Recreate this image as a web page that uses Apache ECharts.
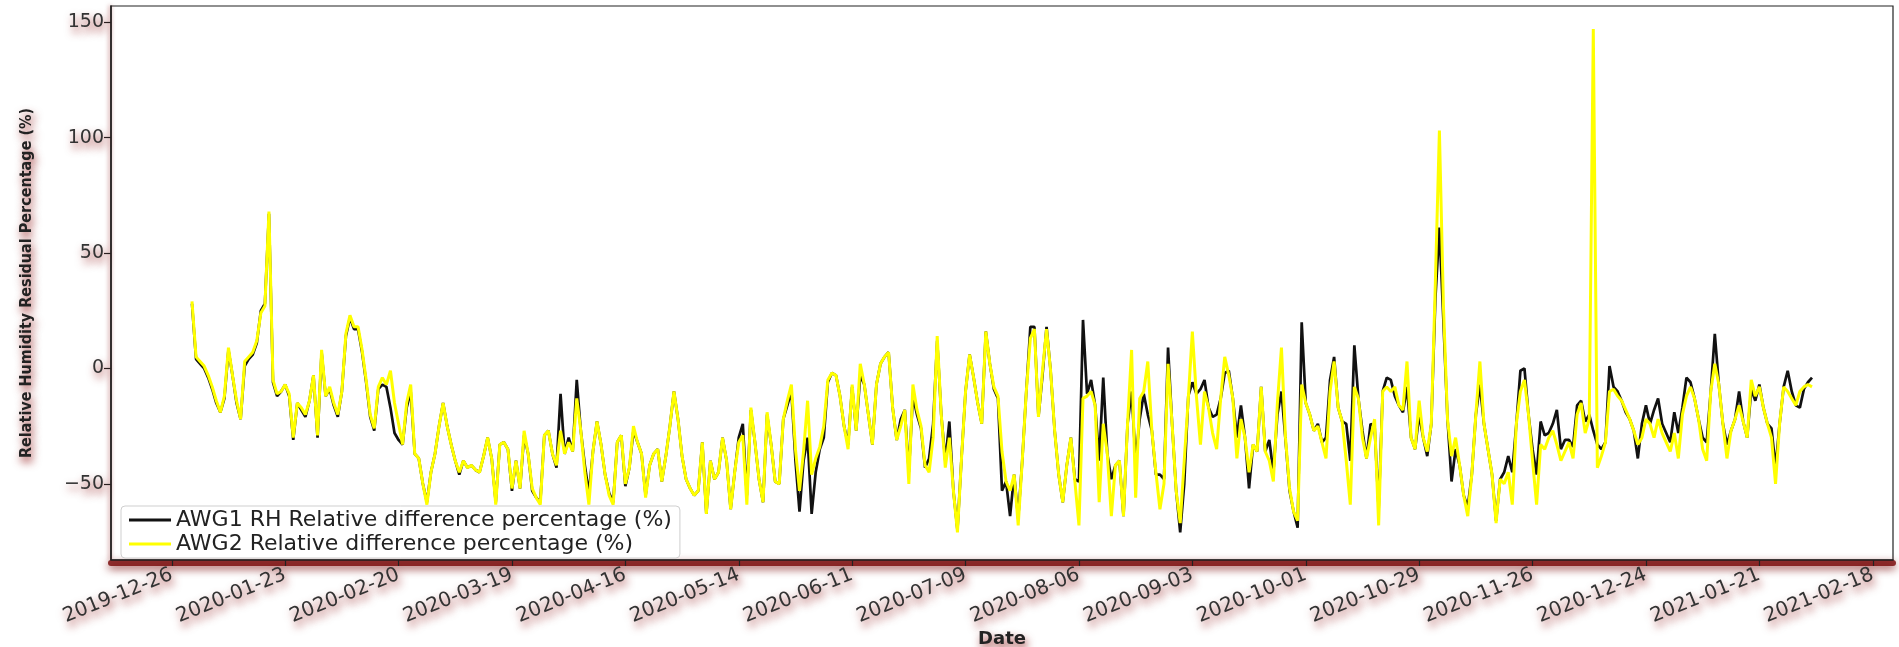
<!DOCTYPE html>
<html><head><meta charset="utf-8">
<script src="https://cdn.jsdelivr.net/npm/echarts@6/dist/echarts.min.js"></script>
<style>html,body{margin:0;padding:0;background:#fff}#c{width:1899px;height:647px}</style>
</head><body><div id="c"></div>
<script>
// ---- data (daily values, first day = startDate) ----
const startDate = '2019-12-31';
const seriesNames = ['AWG1 RH Relative difference percentage (%)', 'AWG2 Relative difference percentage (%)'];
const awg1 = [
 28, 4, 2, 0, -4, -9, -15, -19, -13, 8, -3, -15, -22, 1, 4, 6, 11, 25, 28, 67, -6, -12, -10, -7, -12, -31, -15, -18, -21, -14, -3, -30, 7, -12,
 -9, -16, -21, -10, 14, 22, 17, 17, 7, -6, -21, -27, -9, -7, -8, -17, -28, -31, -33, -17, -10, -37, -39, -50, -58, -45, -37, -25, -15, -25, -33, -40, -46, -40, -43, -42, -44,
 -45, -38, -30, -39, -58, -33, -32, -35, -53, -40, -52, -29, -37, -53, -56, -58, -29, -27, -37, -43, -11, -37, -30, -36, -5, -27, -42, -54, -36, -23, -33, -46, -54, -58, -32, -29, -51,
 -43, -27, -32, -37, -55, -42, -37, -35, -49, -38, -25, -10, -22, -38, -48, -52, -55, -53, -32, -63, -40, -48, -45, -30, -40, -61, -45, -30, -24, -55, -18, -32, -48, -58, -20, -33, -49,
 -50, -22, -16, -10, -40, -62, -40, -30, -63, -45, -35, -30, -6, -2, -3, -12, -25, -33, -8, -27, -3, -7, -20, -33, -7, 2, 5, 7, -17, -31, -22, -18, -45, -12, -20, -26, -43,
 -39, -24, 12, -20, -40, -23, -53, -70, -39, -10, 6, -4, -15, -24, 16, 2, -9, -13, -53, -49, -64, -46, -65, -40, -10, 18, 18, -21, -3, 18, -1, -27, -46, -58, -42, -30, -48,
 -49, 21, -11, -5, -16, -40, -4, -37, -48, -42, -40, -64, -24, -10, -40, -22, -11, -20, -27, -46, -46, -48, 9, -24, -53, -71, -50, -12, -6, -11, -9, -5, -17, -21, -20, -13, -2,
 -1, -13, -30, -16, -30, -52, -33, -36, -8, -36, -31, -45, -20, -10, -31, -53, -62, -69, 20, -15, -20, -27, -24, -32, -30, -5, 5, -17, -23, -24, -40, 10, -13, -27, -39, -24,
 -25, -61, -10, -4, -5, -12, -16, -19, -8, -30, -35, -20, -30, -38, -24, 30, 61, 20, -22, -49, -35, -42, -55, -60, -46, -20, -7, -24, -35, -46, -66, -48, -45, -38, -45, -24, -1,
 0, -20, -35, -46, -23, -29, -28, -24, -18, -35, -31, -31, -34, -16, -14, -23, -20, -27, -33, -35, -32, 1, -8, -10, -14, -19, -22, -27, -39, -24, -16, -24, -18, -13, -24, -28, -32,
 -19, -28, -17, -4, -6, -13, -22, -30, -32, -10, 15, -7, -24, -33, -27, -22, -10, -23, -30, -9, -14, -7, -17, -24, -26, -43, -24, -8, -1, -10, -16, -17, -9, -6, -4
];
const awg2 = [
 29, 5, 3, 1, -3, -8, -14, -19, -12, 9, -3, -14, -22, 3, 5, 7, 12, 24, 27, 68, -5, -11, -10, -7, -11, -30, -15, -17, -20, -14, -3, -29, 8, -12,
 -8, -15, -20, -10, 15, 23, 18, 18, 8, -5, -20, -26, -8, -4, -7, -1, -15, -24, -33, -15, -7, -37, -39, -50, -59, -45, -37, -25, -15, -25, -33, -40, -45, -40, -43, -42, -44,
 -45, -38, -30, -39, -59, -33, -32, -35, -52, -40, -52, -27, -37, -52, -56, -59, -29, -27, -37, -42, -27, -37, -32, -36, -13, -27, -45, -59, -36, -23, -33, -46, -55, -59, -32, -29, -50,
 -43, -25, -32, -37, -56, -42, -37, -35, -49, -38, -25, -10, -22, -38, -48, -52, -55, -53, -32, -63, -40, -48, -45, -30, -40, -61, -45, -32, -29, -59, -17, -32, -48, -58, -19, -33, -49,
 -50, -22, -14, -7, -35, -53, -36, -14, -46, -39, -34, -25, -5, -2, -3, -12, -25, -35, -7, -27, 2, -7, -20, -33, -7, 2, 5, 7, -17, -31, -25, -18, -50, -7, -18, -25, -42,
 -45, -30, 14, -20, -43, -30, -53, -71, -39, -10, 6, -4, -15, -24, 16, 2, -8, -12, -36, -49, -53, -46, -68, -40, -10, 13, 17, -21, -1, 17, -1, -27, -46, -58, -42, -30, -49,
 -68, -13, -12, -10, -16, -58, -24, -37, -64, -42, -40, -64, -24, 8, -56, -13, -10, 3, -27, -45, -61, -50, 2, -24, -53, -67, -40, -13, 16, -12, -33, -10, -17, -28, -35, -13, 5,
 -3, -13, -39, -22, -30, -45, -33, -36, -8, -36, -40, -49, -15, 9, -30, -52, -62, -66, -7, -15, -20, -27, -25, -32, -39, -10, 3, -17, -23, -40, -59, -8, -13, -30, -39, -30,
 -22, -68, -10, -8, -10, -8, -16, -18, 3, -30, -35, -14, -30, -36, -24, 37, 103, 27, -22, -38, -30, -42, -55, -64, -46, -20, 3, -24, -35, -46, -67, -48, -50, -45, -59, -24, -10,
 -5, -20, -40, -59, -33, -35, -30, -27, -33, -40, -36, -32, -39, -20, -15, -28, -22, 147, -43, -38, -32, -10, -9, -12, -14, -18, -22, -27, -33, -30, -22, -24, -30, -22, -28, -32, -36,
 -28, -39, -20, -12, -8, -13, -22, -35, -40, -10, 2, -7, -24, -39, -27, -22, -16, -23, -30, -5, -12, -8, -17, -24, -30, -50, -24, -8, -10, -13, -16, -10, -8, -7, -8
];
const xTickLabels = ['2019-12-26','2020-01-23','2020-02-20','2020-03-19','2020-04-16','2020-05-14','2020-06-11','2020-07-09','2020-08-06','2020-09-03','2020-10-01','2020-10-29','2020-11-26','2020-12-24','2021-01-21','2021-02-18'];
const yTickValues = [-50, 0, 50, 100, 150];

// ---- build ----
const DAY = 86400000;
function parseDate(s){const p=s.split('-').map(Number);return Date.UTC(p[0],p[1]-1,p[2]);}
function fmt(t){const d=new Date(Math.round(t/DAY)*DAY);const p=n=>String(n).padStart(2,'0');return d.getUTCFullYear()+'-'+p(d.getUTCMonth()+1)+'-'+p(d.getUTCDate());}
const t0 = parseDate(startDate);
const dates = awg1.map((_, i) => t0 + i * DAY);
const xTicks = xTickLabels.map(parseDate);
const span = dates[dates.length-1] - dates[0];
const xMin = dates[0] - span * 0.05, xMax = dates[dates.length-1] + span * 0.05;

const shadow = {textShadowColor:'rgba(140,10,10,0.8)', textShadowBlur:8, textShadowOffsetX:2, textShadowOffsetY:5};

const chart = echarts.init(document.getElementById('c'), null, {renderer:'canvas'});
chart.setOption({
  animation:false,
  backgroundColor:'#fff',
  grid:{left:111, right:6, top:6, bottom:87, containLabel:false, outerBoundsMode:'none',
        show:true, borderColor:'#222', borderWidth:1.2, backgroundColor:'#fff'},
  legend:{
    data:seriesNames, orient:'vertical', left:121, top:506,
    backgroundColor:'#fff', borderColor:'#cfcfcf', borderWidth:1, borderRadius:4,
    padding:[3,8,3,8], itemGap:2, itemWidth:42, itemHeight:3, icon:'rect',
    textStyle:{fontFamily:'DejaVu Sans', fontSize:22, color:'#222', lineHeight:19}
  },
  xAxis:[{
    type:'value', min:xMin, max:xMax,
    name:'Date', nameLocation:'middle', nameGap:70, nameMoveOverlap:false,
    nameTextStyle:Object.assign({fontFamily:'DejaVu Sans', fontWeight:'bold', fontSize:18, color:'#222'}, shadow),
    axisLine:{show:true, onZero:false, lineStyle:{color:'#222', width:1.6}},
    axisTick:{show:true, length:6, customValues:xTicks, lineStyle:{color:'#222', width:1.2}},
    axisLabel:Object.assign({customValues:xTicks, rotate:22, margin:14, fontFamily:'DejaVu Sans', fontSize:20, color:'#333',
      formatter:v=>fmt(v)}, shadow),
    splitLine:{show:false}, z:3
  },{
    // decorative shadow band under the bottom spine
    type:'value', min:xMin, max:xMax, position:'bottom', offset:3,
    axisLine:{show:true, onZero:false, lineStyle:{color:'rgba(125,15,15,0.85)', width:6, shadowColor:'rgba(125,15,15,0.9)', shadowBlur:8, shadowOffsetY:3}},
    axisTick:{show:false}, axisLabel:{show:false}, splitLine:{show:false}, z:1
  }],
  yAxis:{
    type:'value', min:-83, max:157,
    name:'Relative Humidity Residual Percentage (%)', nameLocation:'middle', nameGap:76, nameRotate:90, nameMoveOverlap:false,
    nameTextStyle:Object.assign({fontFamily:"'DejaVu Sans Condensed', 'Liberation Sans Narrow', 'DejaVu Sans', sans-serif", fontWeight:'bold', fontSize:16, color:'#222'}, shadow),
    axisLine:{show:true, onZero:false, lineStyle:{color:'#222', width:1.6, shadowColor:'rgba(130,0,0,0.6)', shadowBlur:4, shadowOffsetX:-1}},
    axisTick:{show:true, length:7, customValues:yTickValues, lineStyle:{color:'#222', width:1.2}},
    axisLabel:Object.assign({customValues:yTickValues, margin:7, fontFamily:'DejaVu Sans', fontSize:19, color:'#333',
      formatter:v=>String(v).replace('-', '\u2212')}, shadow),
    splitLine:{show:false}
  },
  series:[
    {name:seriesNames[0], type:'line', xAxisIndex:0, data:dates.map((t,i)=>[t, awg1[i]]), showSymbol:false, symbol:'none',
     lineStyle:{color:'#111', width:2.7}, itemStyle:{color:'#111'}, z:2},
    {name:seriesNames[1], type:'line', xAxisIndex:0, data:dates.map((t,i)=>[t, awg2[i]]), showSymbol:false, symbol:'none',
     lineStyle:{color:'#ffff00', width:3}, itemStyle:{color:'#ffff00'}, z:3}
  ]
});
</script></body></html>
